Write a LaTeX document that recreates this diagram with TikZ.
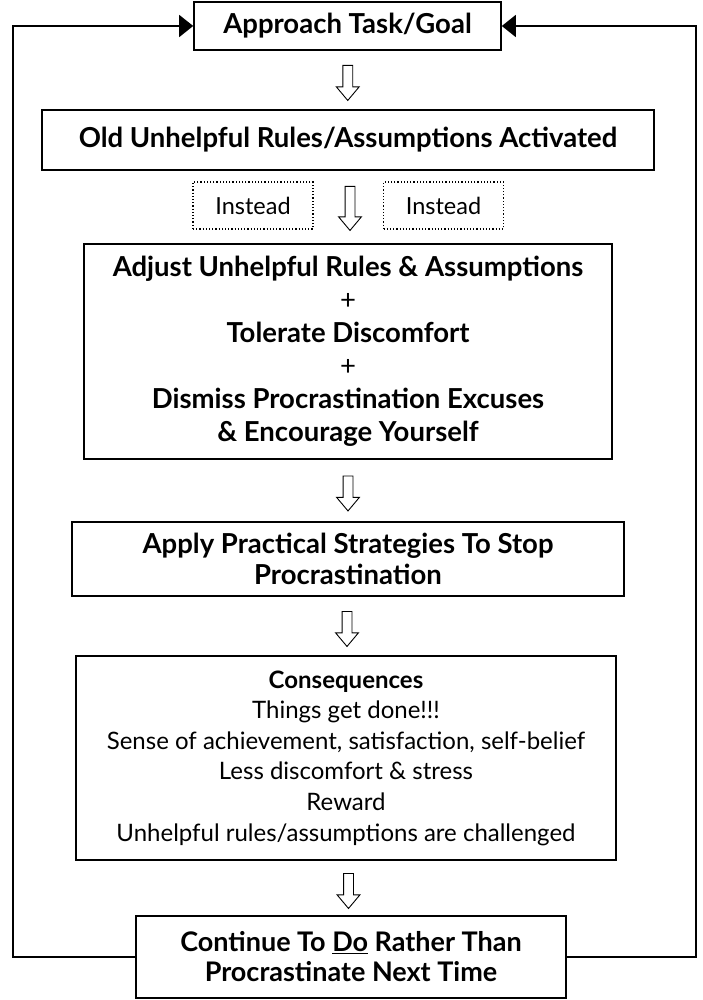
\documentclass[tikz,border=0pt]{standalone}
\usepackage{fontspec}
\setmainfont{Lato}
\usetikzlibrary{shapes,shapes.arrows,arrows.meta,positioning,calc}

\tikzset{
  stepbox/.style={draw,line width=1.6pt,align=center,inner sep=0pt,
    font=\bfseries\fontsize{27.5}{33}\selectfont},
  insteadbox/.style={draw,dotted,line width=1.2pt,minimum width=120pt,
    minimum height=47pt,inner sep=0pt,font=\fontsize{23.5}{26}\selectfont},
  downarrow/.style={single arrow,draw,line width=0.9pt,fill=white,
    shape border rotate=270,inner sep=4.5pt,minimum height=35pt,
    single arrow head extend=6.5pt,single arrow tip angle=80},
  loopline/.style={line width=1.5pt,-{Triangle[length=14pt,width=22pt]}},
}

\begin{document}
\begin{tikzpicture}[x=1pt,y=-1pt,line join=miter]
\useasboundingbox (0,0) rectangle (702,1000);
% boxes
\node[stepbox,minimum width=307pt,minimum height=48pt] (goal) at (347.5,26) {Approach Task/Goal};
\node[stepbox,minimum width=612pt,minimum height=60pt] (old) at (348,140) {Old Unhelpful Rules/Assumptions Activated};
\node[insteadbox] (insL) at (253,205.5) {Instead};
\node[insteadbox] (insR) at (443.5,205.5) {Instead};
\node[stepbox,minimum width=528pt,minimum height=215pt] (adjust) at (348,351.5)
  {Adjust Unhelpful Rules \& Assumptions\\ \textmd{+}\\ Tolerate Discomfort\\ \textmd{+}\\
   Dismiss Procrastination Excuses\\ \& Encourage Yourself};
\node[stepbox,minimum width=552pt,minimum height=74pt,font=\bfseries\fontsize{27.5}{31}\selectfont] (apply) at (348,559)
  {Apply Practical Strategies To Stop\\ Procrastination};
\node[stepbox,minimum width=540pt,minimum height=204pt,font=\fontsize{24}{30.6}\selectfont] (conseq) at (346,758)
  {\textbf{Consequences}\\ Things get done!!!\\ Sense of achievement, satisfaction, self-belief\\
   Less discomfort \& stress\\ Reward\\ Unhelpful rules/assumptions are challenged};
\node[stepbox,minimum width=430pt,minimum height=82pt,font=\bfseries\fontsize{27}{30}\selectfont] (cont) at (351,957)
  {Continue To \underline{Do} Rather Than\\ Procrastinate Next Time};
% hollow arrows
\node[downarrow] (a1) at ($(goal.south)!0.5!(old.north)$) {};
\node[downarrow,minimum height=44pt] (a2) at (350,205.5) {};
\node[downarrow] (a3) at ($(adjust.south)!0.5!(apply.north)$) {};
\node[downarrow] (a4) at ($(apply.south)!0.5!(conseq.north)$) {};
\node[downarrow] (a5) at ($(conseq.south)!0.5!(cont.north)$) {};
% ritorno al goal
\coordinate (lturn) at (13,26);
\coordinate (rturn) at (696,26);
\draw[loopline] (cont.west) -| (lturn) -- (goal.west);
\draw[loopline] (cont.east) -| (rturn) -- (goal.east);
\end{tikzpicture}
\end{document}
